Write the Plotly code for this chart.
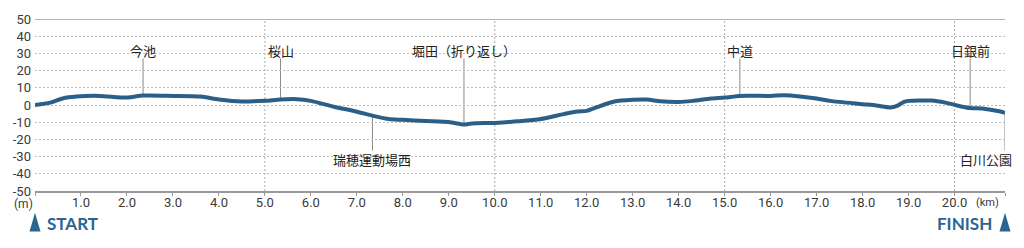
import numpy as np
import plotly.graph_objects as go

# ---- data ----
dist_km = [0.0, 0.33, 0.6, 0.9, 1.4, 2.0, 2.35, 3.0, 3.6, 4.0, 4.5, 5.0, 5.34, 5.7, 6.0,
           6.5, 7.0, 7.34, 7.7, 8.0, 8.5, 9.0, 9.33, 9.5, 10.0, 10.5, 11.0, 11.5, 11.8,
           12.0, 12.3, 12.6, 13.0, 13.3, 13.6, 14.0, 14.3, 14.7, 15.0, 15.33, 16.0, 16.3,
           17.0, 17.3, 18.0, 18.3, 18.6, 18.75, 18.9, 19.0, 19.5, 19.8, 20.0, 20.34, 20.6,
           21.0, 21.0975]
elev_m = [0.0, 1.4, 3.8, 4.9, 5.3, 4.3, 5.5, 5.3, 4.9, 3.2, 2.0, 2.4, 3.2, 3.4, 2.4,
          -1.0, -3.9, -6.2, -8.2, -8.6, -9.3, -9.9, -11.4, -10.7, -10.4, -9.5, -8.2, -5.3, -3.8,
          -3.4, -0.5, 2.0, 3.0, 3.2, 2.2, 1.8, 2.4, 3.8, 4.3, 5.3, 5.3, 5.7,
          3.8, 2.4, 0.5, -0.3, -1.4, -0.5, 1.8, 2.4, 2.6, 1.4, 0.1, -1.8, -2.0,
          -3.8, -4.5]

landmark_names = ["今池", "桜山", "堀田（折り返し）", "中道", "日銀前", "瑞穂運動場西", "白川公園"]
landmark_km = [2.35, 5.34, 9.33, 15.33, 20.34, 7.34, 21.0975]
landmark_label_km = [2.35, 5.34, 9.33, 15.33, 20.34, 7.34, 20.68]
landmark_side = ["up", "up", "up", "up", "up", "down", "down"]

x_tick_km = list(range(0, 21)) + [21.0975]
x_tick_text = [""] + [f"{k}.0" for k in range(1, 21)] + [""]
y_tick_m = list(range(-50, 51, 10))
y_tick_text = [str(v) for v in y_tick_m]
km_guides = [5, 10, 15, 20]
COURSE_KM = 21.0975

# ---- style ----
W, H = 1024, 248
ML, MR, MT, MB = 35, 19, 17, 57
PW, PH = W - ML - MR, H - MT - MB
LINE_COLOR = "#2c5f87"
ACCENT = "#2a6591"
GRID = "#bdbdbd"
AXIS = "#9a9a9a"
TXT = "#3a3a3a"
JP_FONT = "Noto Sans CJK JP"


def px_x(px):
    return (px - ML) / PW


def px_y(py):
    return (H - MB - py) / PH


fig = go.Figure()
fig.add_trace(go.Scatter(
    x=dist_km, y=elev_m, mode="lines",
    line=dict(color=LINE_COLOR, width=4, shape="spline", smoothing=0.7),
    hoverinfo="skip", showlegend=False,
))

shapes = []
# top solid line
shapes.append(dict(type="line", xref="paper", yref="y", x0=0, x1=1, y0=50, y1=50,
                   line=dict(color=AXIS, width=1.5), layer="below"))
# km guides
for k in km_guides:
    shapes.append(dict(type="line", xref="x", yref="y", x0=k, x1=k, y0=-50, y1=50,
                       line=dict(color="#aaaaaa", width=1, dash="2px,2px"), layer="below"))

annotations = []
for name, km, lkm, side in zip(landmark_names, landmark_km, landmark_label_km, landmark_side):
    e = float(np.interp(km, dist_km, elev_m))
    if side == "up":
        y_end, y_lab = 27, 31.5
    else:
        y_end, y_lab = -26.5, -31.5
    shapes.append(dict(type="line", xref="x", yref="y", x0=km, x1=km, y0=e, y1=y_end,
                       line=dict(color="#8a8a8a", width=1), layer="below"))
    annotations.append(dict(x=lkm, y=y_lab, xref="x", yref="y", text=name, showarrow=False,
                            font=dict(family=JP_FONT, size=13, color="#222222"),
                            xanchor="center", yanchor="middle"))

# START / FINISH triangles (paper coordinates, centred on course start / end)
tri_half_px = 5.5
for km in (0.0, COURSE_KM):
    cx = ML + km / COURSE_KM * PW
    shapes.append(dict(type="path", xref="paper", yref="paper",
                       path=(f"M {px_x(cx - tri_half_px)},{px_y(232)} "
                             f"L {px_x(cx)},{px_y(213)} "
                             f"L {px_x(cx + tri_half_px)},{px_y(232)} Z"),
                       fillcolor=ACCENT, line=dict(width=0)))

annotations += [
    dict(x=px_x(45), y=px_y(224), xref="paper", yref="paper", text="<b>START</b>",
         showarrow=False, xanchor="left", yanchor="middle",
         font=dict(family="Lato", size=17, color=ACCENT)),
    dict(x=px_x(994), y=px_y(224), xref="paper", yref="paper", text="<b>FINISH</b>",
         showarrow=False, xanchor="right", yanchor="middle",
         font=dict(family="Lato", size=17, color=ACCENT)),
    dict(x=px_x(23), y=px_y(204), xref="paper", yref="paper", text="(m)",
         showarrow=False, xanchor="center", yanchor="middle",
         font=dict(family="Roboto", size=12, color=TXT)),
    dict(x=px_x(987), y=px_y(203), xref="paper", yref="paper", text="(km)",
         showarrow=False, xanchor="center", yanchor="middle",
         font=dict(family="Roboto", size=11, color=TXT)),
]

fig.update_layout(
    width=W, height=H,
    margin=dict(l=ML, r=MR, t=MT, b=MB, pad=0),
    paper_bgcolor="white", plot_bgcolor="white",
    shapes=shapes, annotations=annotations,
    xaxis=dict(range=[0, COURSE_KM], tickvals=x_tick_km, ticktext=x_tick_text,
               ticks="outside", ticklen=3, tickwidth=1, tickcolor=AXIS,
               showline=True, linecolor=AXIS, linewidth=1.5,
               showgrid=False, zeroline=False, fixedrange=True,
               ticklabelstandoff=-4,
               tickfont=dict(family="Roboto", size=13, color=TXT)),
    yaxis=dict(range=[-50, 50], tickvals=y_tick_m, ticktext=y_tick_text,
               ticks="", showline=False, zeroline=False,
               showgrid=True, gridcolor=GRID, gridwidth=1, griddash="2px,2px",
               fixedrange=True, ticklabelstandoff=3,
               tickfont=dict(family="Roboto", size=13, color=TXT)),
)

fig.write_html("out.html")
